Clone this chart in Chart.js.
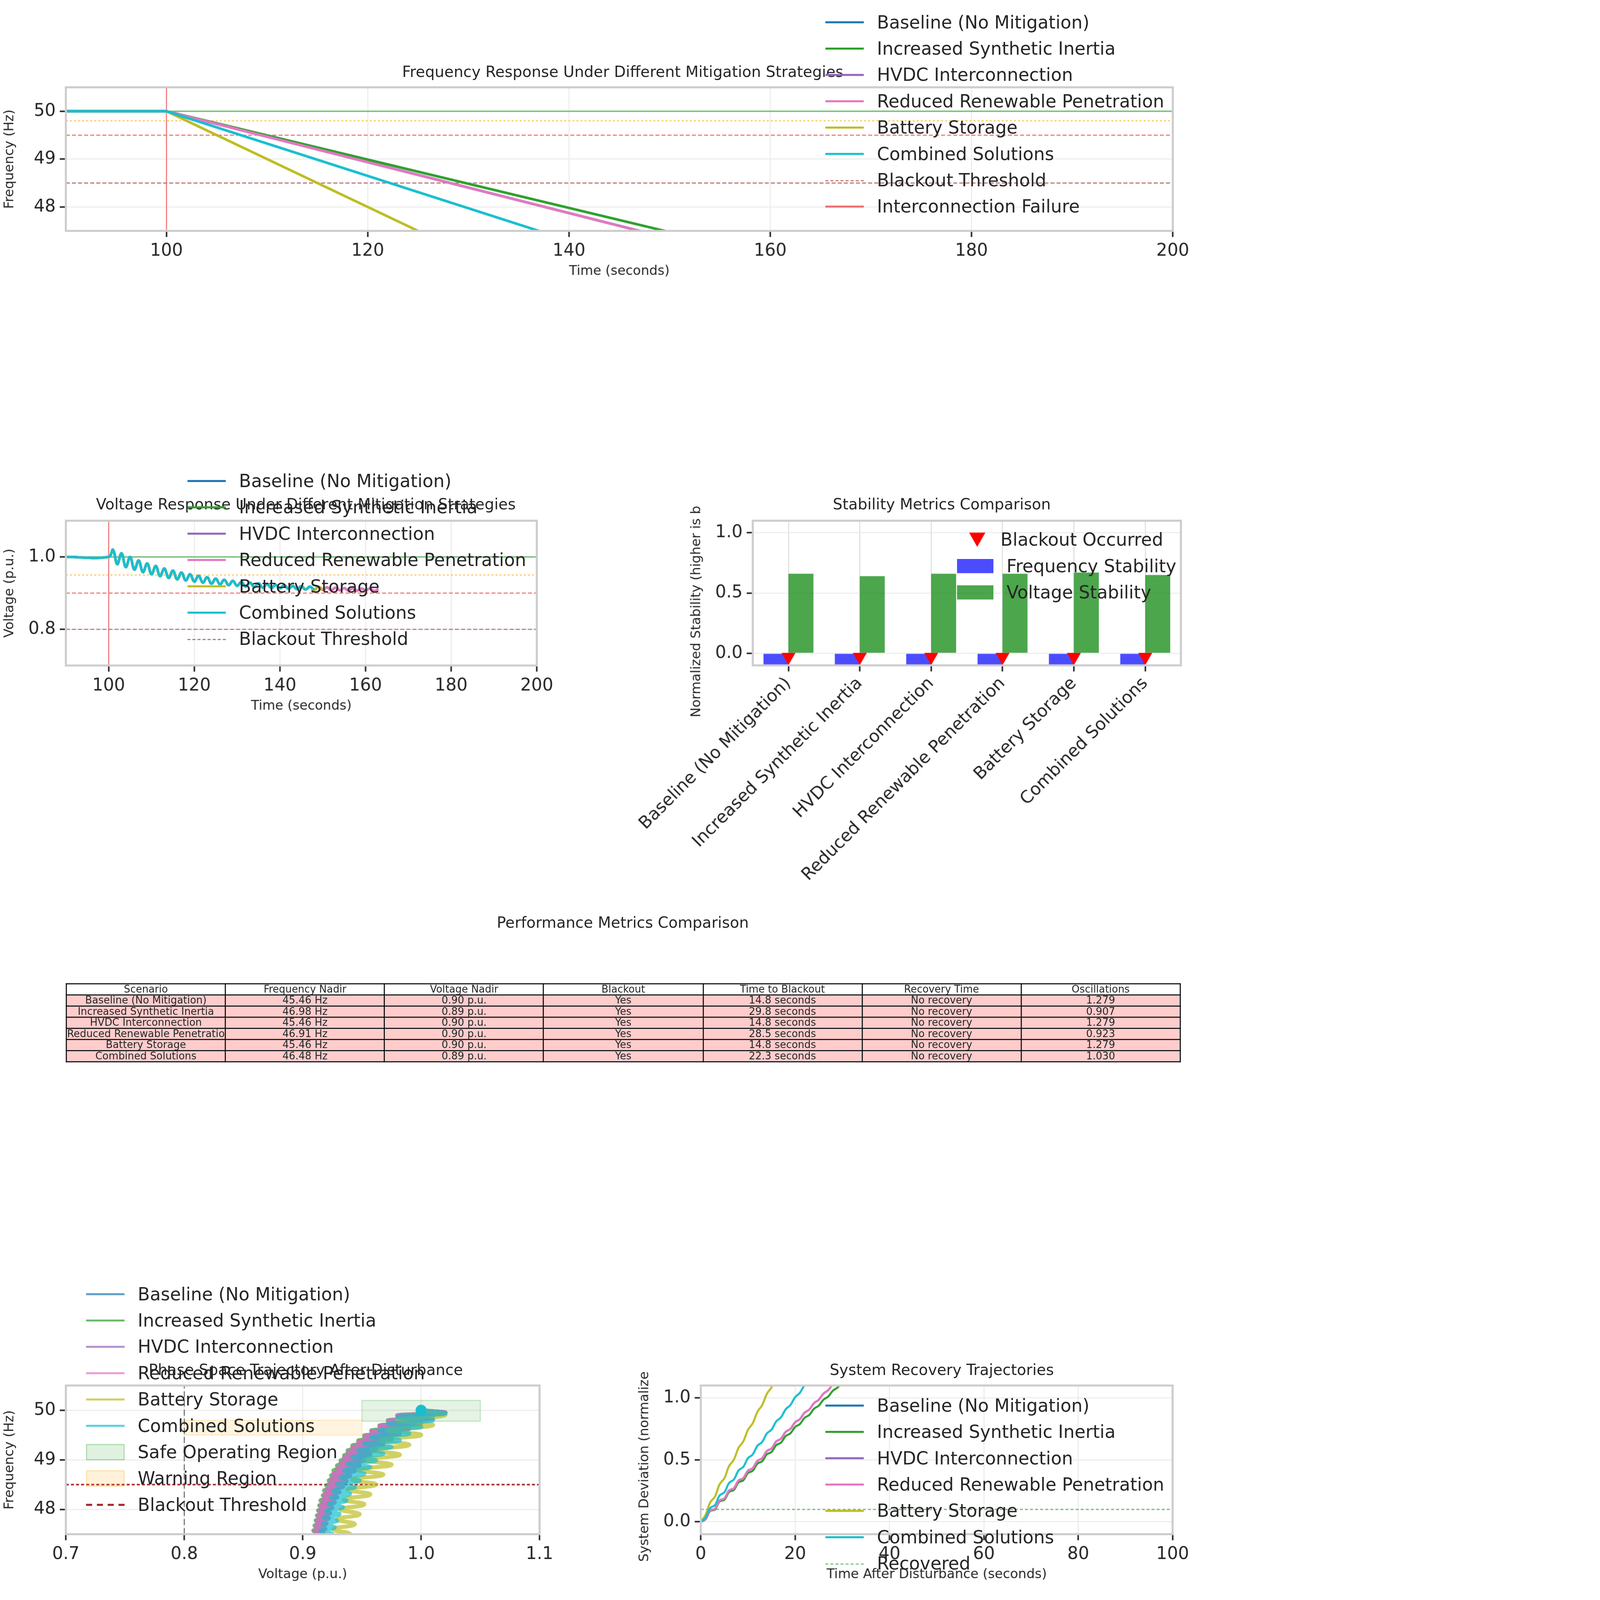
<!DOCTYPE html>
<html><head><meta charset="utf-8">
<script src="https://cdn.jsdelivr.net/npm/chart.js@4.4.1/dist/chart.umd.min.js"></script>
<style>
html,body{margin:0;padding:0;background:#fff;overflow:hidden;}
#wrap{position:absolute;left:0;top:0;width:1200px;height:1580px;transform-origin:0 0;font-family:"DejaVu Sans",sans-serif;color:#262626;}
canvas{position:absolute;}
.t{position:absolute;font-size:15px;white-space:nowrap;transform:translateX(-50%);}
.lg{position:absolute;font-size:17.5px;}
.lg div{height:26px;display:flex;align-items:center;white-space:nowrap;}
.lg i{display:inline-block;width:38px;margin-right:13px;}
table{position:absolute;left:65px;top:971px;width:1101px;border-collapse:collapse;font-size:10px;table-layout:fixed;}
td{border:1px solid #000;text-align:center;padding:0;height:10px;line-height:10px;overflow:hidden;white-space:nowrap;}
tr.r td{background:#ffcccc;}
</style></head><body><div id="wrap"></div>
<script>
// ---------------- DATA ----------------
const scenarios=["Baseline (No Mitigation)","Increased Synthetic Inertia","HVDC Interconnection","Reduced Renewable Penetration","Battery Storage","Combined Solutions"];
const colors=["#1f77b4","#2ca02c","#9467bd","#e377c2","#bcbd22","#17becf"];
const freqBaseline=[[90,50],[100,50],[147,47.5],[170,46.28]];
const freqInertia=[[90,50],[100,50],[149.5,47.5],[170,46.47]];
const freqHVDC=[[90,50],[100,50],[147,47.5],[170,46.28]];
const freqReduced=[[90,50],[100,50],[147,47.5],[170,46.28]];
const freqBattery=[[90,50],[100,50],[125,47.5],[170,43.0]];
const freqCombined=[[90,50],[100,50],[137,47.5],[170,45.27]];
const freqSeries=[freqBaseline,freqInertia,freqHVDC,freqReduced,freqBattery,freqCombined];
const freqThresholds={nominal:50,warning:49.8,alert:49.5,blackout:48.5};
const failureTime=100;
const vStart=100;
const voltageValues=[1.000,1.020,0.980,1.010,0.972,1.000,0.965,0.990,0.958,0.982,0.952,0.975,0.947,0.968,0.942,0.962,0.938,0.957,0.935,0.952,0.932,0.948,0.929,0.944,0.926,0.940,0.924,0.937,0.922,0.934,0.920,0.931,0.918,0.929,0.917,0.927,0.915,0.925,0.914,0.923,0.913,0.922,0.912,0.920,0.911,0.919,0.910,0.918,0.909,0.917,0.909,0.916,0.908,0.915,0.908,0.914,0.907,0.914,0.907,0.913,0.907,0.913,0.906,0.912];
const voltageEnd=[150,160,150,163,150,148];
const voltThresholds={nominal:1.0,warning:0.95,alert:0.9,blackout:0.8};
const freqStability=[-0.45,-0.30,-0.45,-0.31,-0.45,-0.35];
const voltStability=[0.66,0.64,0.66,0.66,0.67,0.65];
const blackoutMarker=[-0.03,-0.03,-0.03,-0.03,-0.03,-0.03];
const tableHeader=["Scenario","Frequency Nadir","Voltage Nadir","Blackout","Time to Blackout","Recovery Time","Oscillations"];
const tableRows=[
["Baseline (No Mitigation)","45.46 Hz","0.90 p.u.","Yes","14.8 seconds","No recovery","1.279"],
["Increased Synthetic Inertia","46.98 Hz","0.89 p.u.","Yes","29.8 seconds","No recovery","0.907"],
["HVDC Interconnection","45.46 Hz","0.90 p.u.","Yes","14.8 seconds","No recovery","1.279"],
["Reduced Renewable Penetratio","46.91 Hz","0.90 p.u.","Yes","28.5 seconds","No recovery","0.923"],
["Battery Storage","45.46 Hz","0.90 p.u.","Yes","14.8 seconds","No recovery","1.279"],
["Combined Solutions","46.48 Hz","0.89 p.u.","Yes","22.3 seconds","No recovery","1.030"]];
const safeRegion=[0.95,1.05,49.78,50.2];
const warnRegion=[0.8,0.95,49.5,49.8];
const recoveredLevel=0.1;
const freqTicks=[48,49,50], timeTicks=[100,120,140,160,180,200], voltTicks=[0.8,1.0];
const phaseXTicks=[0.7,0.8,0.9,1.0,1.1], stabTicks=[0,0.5,1.0], recXTicks=[0,20,40,60,80,100], recYTicks=[0,0.5,1.0];

// ---------------- HELPERS ----------------
const W=document.getElementById('wrap');
const SC=Math.min(window.innerWidth/1200, window.innerHeight/1580);
W.style.transform='scale('+SC+')';
const DPR=SC*(window.devicePixelRatio||1);
Chart.defaults.font.family='"DejaVu Sans", sans-serif';
Chart.defaults.color='#262626';
Chart.defaults.animation=false;
function freqAt(pts,t){for(let i=1;i<pts.length;i++){if(t<=pts[i][0]){const a=pts[i-1],b=pts[i];return a[1]+(b[1]-a[1])*(t-a[0])/(b[0]-a[0]);}}return pts[pts.length-1][1];}
function voltPts(k){const p=[{x:90,y:1.0}];voltageValues.forEach((v,i)=>{const t=vStart+i;if(t<=voltageEnd[k])p.push({x:t,y:v});});return p;}
function hline(y,x0,x1,color,dash,w){return {data:[{x:x0,y},{x:x1,y}],borderColor:color,borderDash:dash||[],borderWidth:w||1,pointRadius:0,showLine:true,order:50};}
const frame={id:'frame',afterDraw(c){const a=c.chartArea,x=c.ctx;x.save();x.strokeStyle='#cccccc';x.lineWidth=2;x.strokeRect(a.left,a.top,a.right-a.left,a.bottom-a.top);x.restore();}};
function axis(min,max,ticks,title,fmt,extra){return Object.assign({type:'linear',min,max,
 afterBuildTicks:s=>{s.ticks=ticks.map(v=>({value:v}));},
 ticks:{font:{size:17},color:'#262626',padding:4,callback:fmt||(v=>v),autoSkip:false,maxRotation:0},
 grid:{color:'#ebebeb',tickColor:'#262626',tickLength:6,tickWidth:1.5,lineWidth:1},
 border:{display:false},
 title:{display:!!title,text:title,font:{size:13},color:'#262626',padding:{top:2,bottom:2}}},extra||{});}
function mk(plot,xH,cfg){const c=document.createElement('canvas');const w=plot.w+65+12,h=plot.h+10+xH;
 c.style.left=(plot.x-65)+'px';c.style.top=(plot.y-10)+'px';W.appendChild(c);
 cfg.options=cfg.options||{};Object.assign(cfg.options,{responsive:false,devicePixelRatio:DPR,layout:{padding:{top:10,right:12,left:0,bottom:0}}});
 cfg.options.plugins=Object.assign({legend:{display:false},title:{display:false},tooltip:{enabled:false}},cfg.options.plugins||{});
 cfg.options.scales.x.afterFit=s=>{s.height=xH;};cfg.options.scales.y.afterFit=s=>{s.width=65;};
 cfg.plugins=[frame];c.width=w;c.height=h;c.style.width=w+'px';c.style.height=h+'px';return new Chart(c,cfg);}
function text(s,x,y,size){const d=document.createElement('div');d.className='t';d.textContent=s;d.style.left=x+'px';d.style.top=y+'px';if(size)d.style.fontSize=size+'px';W.appendChild(d);}
function legend(x,y,items){const d=document.createElement('div');d.className='lg';d.style.left=x+'px';d.style.top=(y-13)+'px';
 items.forEach(it=>{const r=document.createElement('div');const i=document.createElement('i');
 if(it.patch){i.style.height='14px';i.style.width='36px';i.style.background=it.patch;if(it.edge)i.style.border='1px solid '+it.edge;}
 else if(it.tri){i.style.height='0';i.style.borderLeft='8px solid transparent';i.style.borderRight='8px solid transparent';i.style.borderTop='14px solid '+it.tri;i.style.margin='0 15px 0 12px';i.style.width='0';}
 else{i.style.height='0';i.style.borderTop=(it.w||2.5)+'px '+(it.dash||'solid')+' '+it.c;}
 r.appendChild(i);r.appendChild(document.createTextNode(it.l));d.appendChild(r);});W.appendChild(d);}
const N=scenarios.length;

// ---------------- 1 FREQUENCY ----------------
text('Frequency Response Under Different Mitigation Strategies',615,62);
const fds=scenarios.map((s,i)=>({data:freqSeries[i].map(p=>({x:p[0],y:p[1]})),borderColor:colors[i],borderWidth:2.5,pointRadius:0,showLine:true,order:N-i}));
fds.push(hline(freqThresholds.nominal,90,200,'rgba(44,160,44,0.6)',[],1.5));
fds.push(hline(freqThresholds.warning,90,200,'#ffc04d',[2,2],1));
fds.push(hline(freqThresholds.alert,90,200,'#f07070',[4,2],1));
fds.push(hline(freqThresholds.blackout,90,200,'#b86a6a',[4,2],1));
fds.push({data:[{x:failureTime,y:47.5},{x:failureTime,y:50.5}],borderColor:'#f07070',borderWidth:1,pointRadius:0,showLine:true,order:50});
mk({x:65,y:82,w:1101,h:146},50,{type:'scatter',data:{datasets:fds},options:{scales:{x:axis(90,200,timeTicks,'Time (seconds)'),y:axis(47.5,50.5,freqTicks,'Frequency (Hz)')}}});
legend(815,22,scenarios.map((s,i)=>({l:s,c:colors[i]})).concat([{l:'Blackout Threshold',c:'#b86a6a',dash:'dashed',w:1.5},{l:'Interconnection Failure',c:'#f07070'}]));

// ---------------- 2 VOLTAGE ----------------
text('Voltage Response Under Different Mitigation Strategies',302,489);
const vds=scenarios.map((s,i)=>({data:voltPts(i),borderColor:colors[i],borderWidth:2.5,pointRadius:0,showLine:true,tension:0.4,order:N-i}));
vds.push(hline(voltThresholds.nominal,90,200,'rgba(44,160,44,0.6)',[],1.5));
vds.push(hline(voltThresholds.warning,90,200,'#ffc04d',[2,2],1));
vds.push(hline(voltThresholds.alert,90,200,'#f07070',[4,2],1));
vds.push(hline(voltThresholds.blackout,90,200,'#b86a6a',[4,2],1));
vds.push({data:[{x:failureTime,y:0.7},{x:failureTime,y:1.1}],borderColor:'#f07070',borderWidth:1,pointRadius:0,showLine:true,order:50});
mk({x:65,y:510,w:473,h:147},50,{type:'scatter',data:{datasets:vds},options:{scales:{x:axis(90,200,timeTicks,'Time (seconds)'),y:axis(0.7,1.1,voltTicks,'Voltage (p.u.)',v=>v.toFixed(1))}}});
legend(185,475,scenarios.map((s,i)=>({l:s,c:colors[i]})).concat([{l:'Blackout Threshold',c:'#b86a6a',dash:'dashed',w:1.5}]));

// ---------------- 3 STABILITY BARS ----------------
text('Stability Metrics Comparison',930,489);
const bx={type:'category',offset:true,grid:{offset:false,color:'#dddddd',tickColor:'#262626',tickLength:6,tickWidth:1.5},border:{display:false},
 ticks:{font:{size:17},color:'#262626',maxRotation:45,minRotation:45,autoSkip:false,padding:2}};
mk({x:692,y:510,w:474,h:147},230,{type:'bar',data:{labels:scenarios,datasets:[
 {type:'line',data:blackoutMarker,showLine:false,pointStyle:'triangle',rotation:180,pointRadius:7,backgroundColor:'#ff0000',borderColor:'#ff0000',order:0},
 {data:freqStability,backgroundColor:'rgba(0,0,255,0.7)',categoryPercentage:0.7,barPercentage:1.0,order:2},
 {data:voltStability,backgroundColor:'rgba(0,128,0,0.7)',categoryPercentage:0.7,barPercentage:1.0,order:2}]},
 options:{scales:{x:bx,y:axis(-0.1,1.1,stabTicks,'Normalized Stability (higher is better)',v=>v.toFixed(1))}}});
legend(945,533,[{l:'Blackout Occurred',tri:'#ff0000'},{l:'Frequency Stability',patch:'rgba(0,0,255,0.7)'},{l:'Voltage Stability',patch:'rgba(0,128,0,0.7)'}]);

// ---------------- 4 TABLE ----------------
text('Performance Metrics Comparison',615,902);
{const t=document.createElement('table');const h=document.createElement('tr');tableHeader.forEach(v=>{const d=document.createElement('td');d.textContent=v;h.appendChild(d);});t.appendChild(h);
 tableRows.forEach(r=>{const tr=document.createElement('tr');tr.className='r';r.forEach(v=>{const d=document.createElement('td');d.textContent=v;tr.appendChild(d);});t.appendChild(tr);});W.appendChild(t);}

// ---------------- 5 PHASE SPACE ----------------
text('Phase Space Trajectory After Disturbance',302,1344);
function box(r,fill,edge){return {data:[{x:r[0],y:r[2]},{x:r[1],y:r[2]},{x:r[1],y:r[3]},{x:r[0],y:r[3]},{x:r[0],y:r[2]}],showLine:true,fill:'shape',backgroundColor:fill,borderColor:edge,borderWidth:1,pointRadius:0,order:60};}
const pds=scenarios.map((s,i)=>({data:voltPts(i).filter(p=>p.x>=100).map(p=>({x:p.y,y:freqAt(freqSeries[i],p.x)})),borderColor:colors[i]+'b3',borderWidth:4,pointRadius:0,showLine:true,tension:0.5,order:N-i}));
pds.push(box(safeRegion,'rgba(44,160,44,0.12)','rgba(44,160,44,0.25)'));
pds.push(box(warnRegion,'rgba(255,165,0,0.12)','rgba(255,165,0,0.2)'));
pds.push(hline(freqThresholds.blackout,0.7,1.1,'#a52a2a',[3,2],1.5));
pds.push({data:[{x:warnRegion[0],y:47.5},{x:warnRegion[0],y:50.5}],borderColor:'#666',borderDash:[6,3],borderWidth:1,pointRadius:0,showLine:true,order:50});
pds.push({data:[{x:1.0,y:50.0}],pointRadius:5,backgroundColor:'#17becf',borderColor:'#17becf',order:-1});
mk({x:65,y:1364,w:473,h:151},50,{type:'scatter',data:{datasets:pds},options:{scales:{x:axis(0.7,1.1,phaseXTicks,'Voltage (p.u.)',v=>v.toFixed(1)),y:axis(47.5,50.5,freqTicks,'Frequency (Hz)')}}});
legend(85,1278,scenarios.map((s,i)=>({l:s,c:colors[i]+'b3'})).concat([{l:'Safe Operating Region',patch:'rgba(44,160,44,0.15)',edge:'rgba(44,160,44,0.3)'},{l:'Warning Region',patch:'rgba(255,165,0,0.15)',edge:'rgba(255,165,0,0.25)'},{l:'Blackout Threshold',c:'#a52a2a',dash:'dashed',w:2}]));

// ---------------- 6 RECOVERY ----------------
text('System Recovery Trajectories',930,1344);
const rds=scenarios.map((s,i)=>({data:voltPts(i).filter(p=>p.x>=100).map(p=>({x:p.x-100,y:(50-freqAt(freqSeries[i],p.x))/1.42+(1-p.y)*0.8})),borderColor:colors[i],borderWidth:2,pointRadius:0,showLine:true,tension:0.4,order:N-i}));
rds.push(hline(recoveredLevel,0,100,'rgba(44,160,44,0.7)',[3,2],1.2));
mk({x:692,y:1364,w:474,h:151},50,{type:'scatter',data:{datasets:rds},options:{scales:{x:axis(0,100,recXTicks,'Time After Disturbance (seconds)'),y:axis(-0.1,1.1,recYTicks,'System Deviation (normalized)',v=>v.toFixed(1))}}});
legend(815,1388,scenarios.map((s,i)=>({l:s,c:colors[i]})).concat([{l:'Recovered',c:'rgba(44,160,44,0.7)',dash:'dashed',w:1.5}]));
</script></body></html>
